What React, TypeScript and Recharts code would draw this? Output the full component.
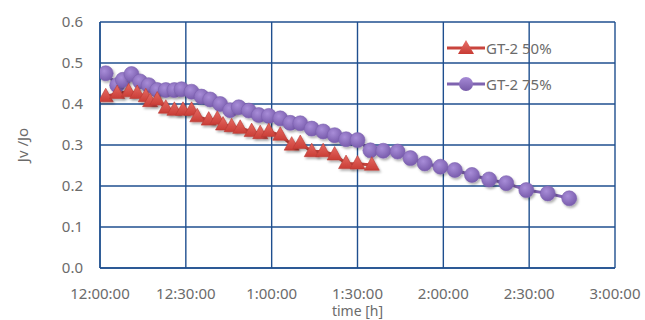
import React from "react";
import { LineChart, Line, XAxis, YAxis, CartesianGrid, Legend } from "recharts";

// minutes after 12:00:00
const time50 = [2, 6, 10, 13, 16, 17.5, 20, 23, 26, 29, 32, 34, 38, 41, 43, 46, 49, 53, 56, 59, 63, 67, 70, 74, 78, 82, 86, 90, 95];
const jv50 = [0.418, 0.426, 0.43, 0.426, 0.418, 0.406, 0.41, 0.39, 0.385, 0.385, 0.385, 0.369, 0.361, 0.363, 0.349, 0.345, 0.341, 0.333, 0.328, 0.333, 0.324, 0.3, 0.304, 0.284, 0.284, 0.276, 0.255, 0.254, 0.251];

const time75 = [2, 6, 8, 11, 14, 17, 20, 23, 26, 28.5, 32, 35.5, 38.5, 42, 45.5, 48.5, 52, 55.5, 59, 63, 66.5, 70, 74, 78, 82, 86, 90, 94.5, 99, 104, 108.5, 113.5, 119, 124, 130, 136, 142, 149, 156.5, 164];
const jv75 = [0.475, 0.446, 0.459, 0.473, 0.455, 0.446, 0.434, 0.434, 0.434, 0.436, 0.43, 0.418, 0.411, 0.4, 0.385, 0.392, 0.384, 0.373, 0.371, 0.365, 0.354, 0.353, 0.34, 0.333, 0.324, 0.314, 0.312, 0.287, 0.286, 0.284, 0.268, 0.255, 0.247, 0.239, 0.227, 0.216, 0.207, 0.19, 0.182, 0.17];

const xTicks = [0, 30, 60, 90, 120, 150, 180];
const xLabels = ["12:00:00", "12:30:00", "1:00:00", "1:30:00", "2:00:00", "2:30:00", "3:00:00"];
const yTicks = [0, 0.1, 0.2, 0.3, 0.4, 0.5, 0.6];

const names = ["GT-2 50%", "GT-2 75%"];

const data50 = time50.map((t, i) => ({ t, v: jv50[i] }));
const data75 = time75.map((t, i) => ({ t, v: jv75[i] }));

const RED_LINE = "#c9443d";
const PURPLE_LINE = "#7f63b0";
const GRID = "#1f4f8f";
const TEXT = "#6b6b6b";
const FONT = "'Noto Sans', sans-serif";

function Tri({ cx, cy, size = 7.5 }: { cx: number; cy: number; size?: number }) {
  const h = size * 1.8;
  return (
    <path
      d={`M${cx},${cy - h * 0.62} L${cx + size},${cy + h * 0.38} L${cx - size},${cy + h * 0.38} Z`}
      fill="url(#redGrad)"
      stroke="#b83a34"
      strokeWidth={0.6}
      filter="url(#shadow)"
    />
  );
}

function Dot({ cx, cy, r = 7.5 }: { cx: number; cy: number; r?: number }) {
  return <circle cx={cx} cy={cy} r={r} fill="url(#purpleGrad)" stroke="#7a5fae" strokeWidth={0.6} filter="url(#shadow)" />;
}

const renderTri = (p: any) => <Tri key={`t${p.index}`} cx={p.cx} cy={p.cy} />;
const renderDot = (p: any) => <Dot key={`d${p.index}`} cx={p.cx} cy={p.cy} />;

const LegendBox = () => (
  <div style={{ fontFamily: FONT, fontSize: 15, color: TEXT }}>
    {names.map((n, i) => (
      <div key={n} style={{ display: "flex", alignItems: "center", height: 36 }}>
        <svg width={38} height={18} style={{ marginRight: 1 }}>
          <defs>
            <linearGradient id={`lg${i}`} x1="0" y1="0" x2="0" y2="1">
              <stop offset="0" stopColor={i === 0 ? "#e8706a" : "#a68ad6"} />
              <stop offset="1" stopColor={i === 0 ? "#c83c35" : "#765aa8"} />
            </linearGradient>
          </defs>
          <line x1={0} y1={9} x2={38} y2={9} stroke={i === 0 ? RED_LINE : PURPLE_LINE} strokeWidth={3} />
          {i === 0 ? (
            <path d="M19,1 L27,15 L11,15 Z" fill={`url(#lg${i})`} />
          ) : (
            <circle cx={19} cy={9} r={7} fill={`url(#lg${i})`} />
          )}
        </svg>
        <span>{n}</span>
      </div>
    ))}
  </div>
);

const YLabel = () => {
  const x = 22;
  const y = 145;
  return (
    <text x={x} y={y} transform={`rotate(-90 ${x} ${y})`} textAnchor="middle" dominantBaseline="central" fill={TEXT} fontSize={15} fontFamily={FONT}>
      Jv /Jo
    </text>
  );
};

export default function App() {
  return (
    <div style={{ position: "absolute", left: 0, top: 0, width: 645, height: 320, background: "#fff" }}>
      <LineChart width={645} height={320} margin={{ top: 22, right: 30, bottom: 0, left: 0 }}>
        <defs>
          <linearGradient id="redGrad" x1="0" y1="0" x2="0" y2="1">
            <stop offset="0" stopColor="#e66a63" />
            <stop offset="1" stopColor="#c93d36" />
          </linearGradient>
          <radialGradient id="purpleGrad" cx="0.4" cy="0.35" r="0.7">
            <stop offset="0" stopColor="#a88dd8" />
            <stop offset="1" stopColor="#7659aa" />
          </radialGradient>
          <filter id="shadow" x="-50%" y="-50%" width="200%" height="200%">
            <feDropShadow dx="1.5" dy="2" stdDeviation="1.2" floodColor="#000" floodOpacity="0.3" />
          </filter>
        </defs>
        <CartesianGrid stroke={GRID} strokeWidth={1.4} horizontalValues={yTicks} verticalValues={xTicks} />
        <XAxis
          type="number"
          dataKey="t"
          domain={[0, 180]}
          ticks={xTicks}
          tickFormatter={(v: number) => xLabels[xTicks.indexOf(v)]}
          tick={{ fill: TEXT, fontSize: 15, fontFamily: FONT }}
          tickLine={false}
          tickSize={0}
          tickMargin={20}
          axisLine={{ stroke: GRID, strokeWidth: 1.4 }}
          height={52}
          allowDataOverflow
          label={{ value: "time [h]", position: "insideBottom", offset: 4, fill: TEXT, fontSize: 14, fontFamily: FONT }}
        />
        <YAxis
          type="number"
          domain={[0, 0.6]}
          ticks={yTicks}
          tickFormatter={(v: number) => v.toFixed(1)}
          tick={{ fill: TEXT, fontSize: 15, fontFamily: FONT }}
          tickLine={false}
          tickSize={0}
          tickMargin={17}
          axisLine={{ stroke: GRID, strokeWidth: 1.4 }}
          width={100}
          label={<YLabel />}
        />
        <Legend
          layout="vertical"
          align="center"
          verticalAlign="middle"
          content={<LegendBox />}
          wrapperStyle={{ left: 447, top: 30, width: 140, height: 72 }}
        />
        <Line
          data={data75}
          dataKey="v"
          stroke={PURPLE_LINE}
          strokeWidth={3}
          dot={renderDot}
          activeDot={false}
          isAnimationActive={false}
          name={names[1]}
        />
        <Line
          data={data50}
          dataKey="v"
          stroke={RED_LINE}
          strokeWidth={3}
          dot={renderTri}
          activeDot={false}
          isAnimationActive={false}
          name={names[0]}
        />
      </LineChart>
    </div>
  );
}
